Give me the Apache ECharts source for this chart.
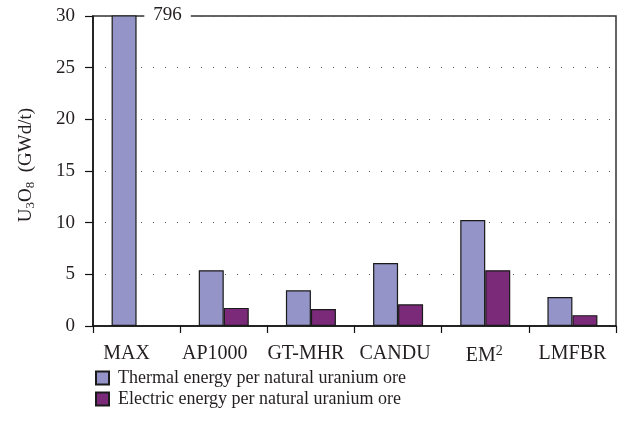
<!DOCTYPE html>
<html>
<head>
<meta charset="utf-8">
<script src="https://cdn.jsdelivr.net/npm/echarts@6/dist/echarts.min.js"></script>
<style>html,body{margin:0;padding:0;background:#fff;}#c{width:622px;height:445px;}</style>
</head>
<body>
<div id="c"></div>
<script>
const categories = ['MAX', 'AP1000', 'GT-MHR', 'CANDU', 'EM2', 'LMFBR'];
const thermal = [796, 5.4, 3.45, 6.1, 10.25, 2.8];
const electric = [null, 1.75, 1.65, 2.1, 5.4, 1.05];
const seriesNames = ['Thermal energy per natural uranium ore', 'Electric energy per natural uranium ore'];
const yTicks = { min: 0, max: 30, interval: 5 };

const FONT = "'Liberation Serif', 'DejaVu Serif', serif";
const TXT = '#231f20';
// label shift (px) of each category label toward the left, as in the original
const labelShiftLeft = [10, 9, 5, 3, 1, 0];
const chart = echarts.init(document.getElementById('c'), null, { renderer: 'canvas' });

const thermalData = thermal.map((v, i) => {
  if (v > yTicks.max) {
    return {
      value: v,
      label: {
        show: true, position: [56, 0], align: 'center', verticalAlign: 'middle',
        formatter: '{c}', fontFamily: FONT, fontSize: 19, color: TXT,
        backgroundColor: '#fff', padding: [2, 9]
      }
    };
  }
  return v;
});

const catData = categories.map((c, i) => ({
  value: c,
  textStyle: { fontFamily: FONT, fontSize: 20, color: TXT, padding: [0, 2 * labelShiftLeft[i], 0, 0] }
}));

chart.setOption({
  animation: false,
  grid: { left: 93, right: 6, top: 16, bottom: 119, show: true, borderColor: '#333', borderWidth: 1.5, backgroundColor: 'transparent' },
  legend: {
    orient: 'vertical', left: 90, top: 364, itemWidth: 13, itemHeight: 13, itemGap: 3,
    icon: 'rect',
    textStyle: { fontFamily: FONT, fontSize: 18, color: TXT, padding: [0, 0, 0, 4] },
    data: seriesNames
  },
  xAxis: {
    type: 'category', data: catData, boundaryGap: true,
    axisLine: { lineStyle: { color: '#111', width: 1.5 } },
    axisTick: { show: true, length: 7, lineStyle: { color: '#111', width: 1.2 } },
    axisLabel: {
      fontFamily: FONT, fontSize: 20, color: TXT, margin: 18, interval: 0,
      formatter: v => v === 'EM2' ? '{n|EM}{s|2}' : '{n|' + v + '}',
      rich: {
        n: { fontFamily: FONT, fontSize: 20, color: TXT },
        s: { fontFamily: FONT, fontSize: 14, color: TXT, padding: [0, 0, 10, 0] }
      }
    }
  },
  yAxis: {
    type: 'value', min: yTicks.min, max: yTicks.max, interval: yTicks.interval,
    name: '{g| }{n|U}{s|3}{n|O}{s|8}{n|  (GWd/t)}',
    nameLocation: 'middle', nameGap: 56, nameRotate: 90,
    nameTextStyle: {
      fontFamily: FONT,
      rich: {
        g: { fontFamily: FONT, fontSize: 19, width: 12 },
        n: { fontFamily: FONT, fontSize: 19, color: TXT },
        s: { fontFamily: FONT, fontSize: 13, color: TXT, padding: [9, 0, 0, 0] }
      }
    },
    axisLine: { show: true, lineStyle: { color: '#111', width: 1.5 } },
    axisTick: { show: true, length: 8, lineStyle: { color: '#111', width: 1.2 } },
    axisLabel: { fontFamily: FONT, fontSize: 19, color: TXT, margin: 18 },
    splitLine: { show: true, lineStyle: { color: '#555', type: [1, 11], width: 1 } }
  },
  series: [
    {
      name: seriesNames[0], type: 'bar', data: thermalData,
      barWidth: 25, barGap: '0%',
      itemStyle: { color: '#9494c8', borderColor: '#1a1a1a', borderWidth: 1.2 }
    },
    {
      name: seriesNames[1], type: 'bar', data: electric,
      barWidth: 25, barGap: '0%',
      itemStyle: { color: '#7a2a78', borderColor: '#1a1a1a', borderWidth: 1.2 }
    }
  ]
});
</script>
</body>
</html>
